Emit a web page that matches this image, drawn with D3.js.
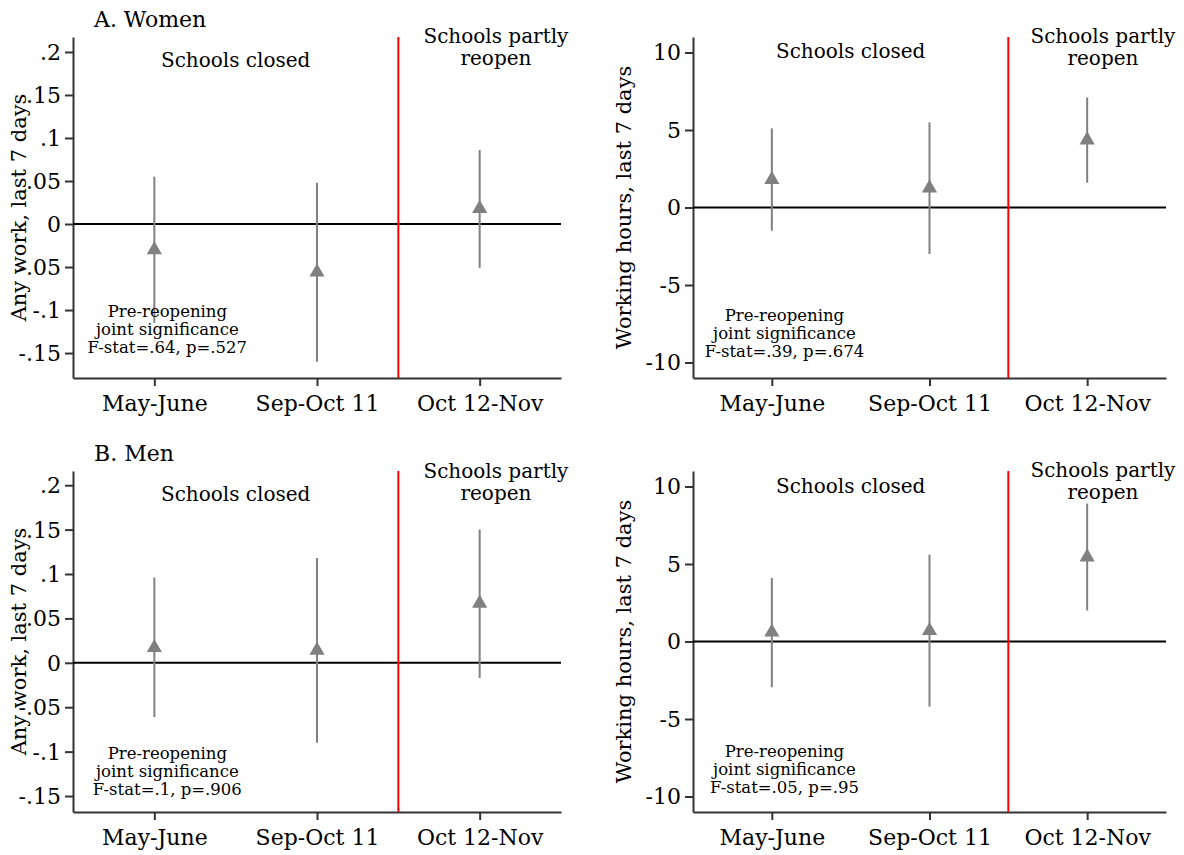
<!DOCTYPE html>
<html>
<head>
<meta charset="utf-8">
<script src="https://cdn.jsdelivr.net/npm/d3@7"></script>
<style>
  body { margin: 0; background: #fff; }
  svg text { font-family: "DejaVu Serif", serif; fill: #000; }
  .axis path, .axis line { stroke: #333; stroke-width: 2px; }
  .axis text { font-size: 22px; }
</style>
</head>
<body>
<div id="chart"></div>
<script>
// periods on the x axis
const periods = ["May-June", "Sep-Oct 11", "Oct 12-Nov"];

// A. Women - any work
const womenWorkEst = [-0.030, -0.056, 0.018];
const womenWorkLo = [-0.115, -0.160, -0.051];
const womenWorkHi = [0.055, 0.048, 0.086];

// A. Women - working hours
const womenHoursEst = [1.8, 1.25, 4.35];
const womenHoursLo = [-1.5, -3.0, 1.6];
const womenHoursHi = [5.1, 5.5, 7.1];

// B. Men - any work
const menWorkEst = [0.017, 0.014, 0.067];
const menWorkLo = [-0.061, -0.090, -0.017];
const menWorkHi = [0.096, 0.118, 0.150];

// B. Men - working hours
const menHoursEst = [0.6, 0.7, 5.45];
const menHoursLo = [-2.95, -4.2, 2.0];
const menHoursHi = [4.1, 5.6, 8.9];

// tick values / labels
const workTicks = [-0.15, -0.1, -0.05, 0, 0.05, 0.1, 0.15, 0.2];
const workTickLabels = ["-.15", "-.1", "-.05", "0", ".05", ".1", ".15", ".2"];
const hoursTicks = [-10, -5, 0, 5, 10];
const hoursTickLabels = ["-10", "-5", "0", "5", "10"];

// joint significance notes
const noteWomenWork = ["Pre-reopening", "joint significance", "F-stat=.64, p=.527"];
const noteWomenHours = ["Pre-reopening", "joint significance", "F-stat=.39, p=.674"];
const noteMenWork = ["Pre-reopening", "joint significance", "F-stat=.1, p=.906"];
const noteMenHours = ["Pre-reopening", "joint significance", "F-stat=.05, p=.95"];

const svg = d3.select("#chart").append("svg")
  .attr("width", 1184)
  .attr("height", 855);

function drawPanel(cfg) {
  const w = cfg.width, h = cfg.height;
  const g = svg.append("g").attr("transform", `translate(${cfg.left},${cfg.top})`);

  const x = d3.scaleLinear().domain([0.5, 3.5]).range([0, w]);
  const y = d3.scaleLinear().domain(cfg.yDomain).range([h, 0]);

  const xAxis = d3.axisBottom(x)
    .tickValues([1, 2, 3])
    .tickFormat(d => periods[d - 1])
    .tickSize(8).tickPadding(9).tickSizeOuter(0);
  const yAxis = d3.axisLeft(y)
    .tickValues(cfg.ticks)
    .tickFormat((d, i) => cfg.tickLabels[i])
    .tickSize(8).tickPadding(4).tickSizeOuter(0);

  g.append("g").attr("class", "axis")
    .attr("transform", `translate(0,${h})`)
    .call(xAxis);
  g.append("g").attr("class", "axis").call(yAxis)
    .selectAll("text").attr("dy", "0.34em");

  // y title
  g.append("text")
    .attr("transform", `translate(${cfg.titleX},${h / 2}) rotate(-90)`)
    .attr("text-anchor", "middle")
    .style("font-size", "21px")
    .text(cfg.yTitle);

  // zero line
  g.append("line")
    .attr("x1", 0).attr("x2", w)
    .attr("y1", y(0)).attr("y2", y(0))
    .attr("stroke", "#000").attr("stroke-width", 2);

  // reopening line
  g.append("line")
    .attr("x1", x(2.5)).attr("x2", x(2.5))
    .attr("y1", 0).attr("y2", h)
    .attr("stroke", "#ff0000").attr("stroke-width", 2);

  const rows = periods.map((p, i) => ({ i: i + 1, est: cfg.est[i], lo: cfg.lo[i], hi: cfg.hi[i] }));

  // confidence intervals
  g.selectAll(".ci").data(rows).enter().append("line")
    .attr("class", "ci")
    .attr("x1", d => x(d.i)).attr("x2", d => x(d.i))
    .attr("y1", d => y(d.lo)).attr("y2", d => y(d.hi))
    .attr("stroke", "#808080").attr("stroke-width", 2);

  // point estimates
  g.selectAll(".pt").data(rows).enter().append("path")
    .attr("class", "pt")
    .attr("d", d3.symbol(d3.symbolTriangle, 100))
    .attr("transform", d => `translate(${x(d.i)},${y(d.est)})`)
    .attr("fill", "#808080");

  // annotations
  g.append("text")
    .attr("x", x(1.5)).attr("y", y(cfg.closedY))
    .attr("text-anchor", "middle")
    .style("font-size", "20px")
    .text("Schools closed");

  const reopen = g.append("text")
    .attr("text-anchor", "middle")
    .style("font-size", "20px");
  reopen.append("tspan").attr("x", x(3.1)).attr("y", y(cfg.reopenY)).text("Schools partly");
  reopen.append("tspan").attr("x", x(3.1)).attr("dy", 22).text("reopen");

  const note = g.append("text")
    .attr("text-anchor", "middle")
    .style("font-size", "16.5px");
  cfg.note.forEach((t, i) => {
    note.append("tspan")
      .attr("x", x(1.08))
      .attr("y", y(cfg.noteY) + i * 18)
      .text(t);
  });

  if (cfg.panelTitle) {
    svg.append("text")
      .attr("x", cfg.left + 21).attr("y", cfg.top - 10)
      .style("font-size", "22px")
      .text(cfg.panelTitle);
  }
}

const leftX = 73, leftW = 488;
const rightX = 693, rightW = 473;
const topA = 37, topB = 471, panelH = 341;

drawPanel({
  left: leftX, top: topA, width: leftW, height: panelH,
  yDomain: [-0.179, 0.2174], ticks: workTicks, tickLabels: workTickLabels,
  est: womenWorkEst, lo: womenWorkLo, hi: womenWorkHi,
  yTitle: "Any work, last 7 days", titleX: -47,
  closedY: 0.183, reopenY: 0.211, note: noteWomenWork, noteY: -0.108,
  panelTitle: "A. Women"
});
drawPanel({
  left: rightX, top: topA, width: rightW, height: panelH,
  yDomain: [-11, 11], ticks: hoursTicks, tickLabels: hoursTickLabels,
  est: womenHoursEst, lo: womenHoursLo, hi: womenHoursHi,
  yTitle: "Working hours, last 7 days", titleX: -62,
  closedY: 9.65, reopenY: 10.6, note: noteWomenHours, noteY: -7.35
});
drawPanel({
  left: leftX, top: topB, width: leftW, height: panelH,
  yDomain: [-0.168, 0.216], ticks: workTicks, tickLabels: workTickLabels,
  est: menWorkEst, lo: menWorkLo, hi: menWorkHi,
  yTitle: "Any work, last 7 days", titleX: -47,
  closedY: 0.182, reopenY: 0.208, note: noteMenWork, noteY: -0.108,
  panelTitle: "B. Men"
});
drawPanel({
  left: rightX, top: topB, width: rightW, height: panelH,
  yDomain: [-11, 11], ticks: hoursTicks, tickLabels: hoursTickLabels,
  est: menHoursEst, lo: menHoursLo, hi: menHoursHi,
  yTitle: "Working hours, last 7 days", titleX: -62,
  closedY: 9.55, reopenY: 10.6, note: noteMenHours, noteY: -7.45
});
</script>
</body>
</html>
